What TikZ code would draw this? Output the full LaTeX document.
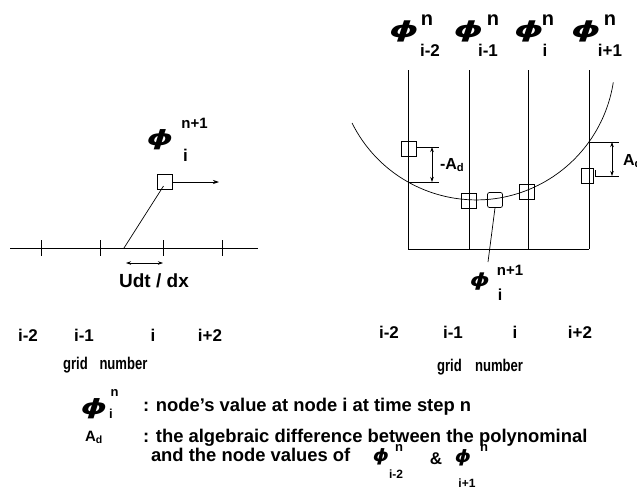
\documentclass[tikz,border=0pt]{standalone}
\usepackage{fontspec}
\setmainfont{Liberation Sans}
\newfontfamily\phifont{DejaVu Sans}[ItalicFont={DejaVu Sans Oblique},BoldFont={DejaVu Sans Bold},BoldItalicFont={DejaVu Sans Bold Oblique}]
\usepackage{graphicx}
\usetikzlibrary{arrows.meta,calc}
\newcommand{\fs}[1]{\fontsize{#1}{#1}\selectfont}
\newcommand{\Bphi}[2]{\scalebox{#2}[1]{\phifont\bfseries\itshape\fs{#1}ϕ}}
\newcommand{\cond}[1]{\scalebox{0.77}[1]{#1}}
\begin{document}
\begin{tikzpicture}[x=1pt,y=-1pt,line width=0.7pt,
  txt/.style={inner sep=0pt,outer sep=0pt,anchor=base},
  lab/.style={txt,font=\bfseries\fs{17}},
  supl/.style={txt,font=\bfseries\fs{15}},
  topsup/.style={txt,font=\bfseries\fs{20}},
  topsub/.style={txt,font=\bfseries\fs{17}},
  leg/.style={txt,font=\bfseries\fs{18.4},anchor=base west},
  legs/.style={txt,font=\bfseries\fs{13}},
  sq/.style={draw,minimum width=15pt,minimum height=15pt,inner sep=0pt},
  tip/.style={-{Stealth[length=6pt,width=4pt]}},
  dtip/.style={{Stealth[length=5pt,width=3.5pt]}-{Stealth[length=5pt,width=3.5pt]}}]
\useasboundingbox (0,0) rectangle (637,493);

% ---------- left diagram ----------
\coordinate (La) at (10,248);
\coordinate (Lb) at (258,248);
\draw (La) -- (Lb);
\foreach \x in {41,100,163,222} \draw (\x,240) -- (\x,256);
\node[sq] (Lsq) at (164.5,182) {};
\coordinate (Lfoot) at (124,248);
\draw ($(Lsq.center)+(-1,4)$) -- (Lfoot);
\coordinate (Larr) at (219,182);
\draw[tip] (Lsq.east) -- (Larr);
\coordinate (Lda) at (126,263);
\coordinate (Ldb) at (163,263);
\draw[dtip] (Lda) -- (Ldb);
\node[txt,font=\bfseries\fs{19}] (udt) at (154,287) {Udt / dx};
\node[txt] (Lphi) at (160,145) {\Bphi{21}{1.6}};
\node[supl] (Lsup) at (194.5,128) {n+1};
\node[txt,font=\bfseries\fs{17}] (Lsub) at (185.5,161) {i};

% ---------- right diagram ----------
\foreach \n/\x in {a/408,b/469,c/528,d/589}{
  \coordinate (T\n) at (\x,70);
  \coordinate (B\n) at (\x,249);
  \draw (T\n) -- (B\n);
}
\draw (Ba) -- (Bd);
\coordinate (C) at (476.2,61.2);
\draw ([shift={(206.45:138.7pt)}]C) arc[start angle=206.45,end angle=351.2,radius=138.7pt];

\node[sq] (s1) at (408.5,148.5) {};
\node[sq] (s2) at (468.5,200.5) {};
\node[sq,rounded corners=2pt] (s3) at (495,200) {};
\node[sq] (s4) at (526.5,191.5) {};
\node[sq,minimum width=12pt] (s5) at (587,175.5) {};

% -A_d dimension
\coordinate (m1s) at (416,147);
\coordinate (m1a) at (439,147);
\coordinate (m1b) at (408,182);
\coordinate (m1c) at (439,182);
\coordinate (m1u) at (432,147);
\coordinate (m1d) at (432,182);
\draw (m1s) -- (m1a);
\draw (m1b) -- (m1c);
\draw[dtip] (m1u) -- (m1d);
\node[txt,font=\bfseries\fs{16},anchor=base west] (mAd) at (440,169) {-A\textsubscript{d}};

% A_d dimension
\coordinate (m2a) at (589,142);
\coordinate (m2b) at (619,142);
\coordinate (m2t) at (595,170);
\coordinate (m2c) at (595,176);
\coordinate (m2d) at (619,176);
\coordinate (m2u) at (612,142);
\coordinate (m2l) at (612,176);
\draw (m2a) -- (m2b);
\draw (m2t) -- (m2c) -- (m2d);
\draw[dtip] (m2u) -- (m2l);
\node[txt,font=\bfseries\fs{16},anchor=base west] (pAd) at (623,165) {A\textsubscript{d}};

% phi^{n+1}_i below
\coordinate (pl) at (488,262);
\draw (s3.south) -- (pl);
\node[txt] (Rphi) at (480,286) {\Bphi{18}{1.4}};
\node[supl] (Rsup) at (510,275) {n+1};
\node[txt,font=\bfseries\fs{16}] (Rsub) at (500,300) {i};

% top phi labels
\node[txt] (P1) at (404,37) {\Bphi{22}{1.7}};
\node[topsup] (P1n) at (427,25) {n};
\node[topsub] (P1s) at (430,56) {i-2};
\node[txt] (P2) at (468.5,37) {\Bphi{22}{1.7}};
\node[topsup] (P2n) at (493,25) {n};
\node[topsub] (P2s) at (488,56) {i-1};
\node[txt] (P3) at (529,37) {\Bphi{22}{1.7}};
\node[topsup] (P3n) at (548,25) {n};
\node[topsub] (P3s) at (545,56) {i};
\node[txt] (P4) at (586,37) {\Bphi{22}{1.7}};
\node[topsup] (P4n) at (610,25) {n};
\node[topsub] (P4s) at (610,56) {i+1};

% ---------- grid numbers ----------
\node[lab] (l1) at (28,341) {i-2};
\node[lab] (l2) at (84,341) {i-1};
\node[lab] (l3) at (153,341) {i};
\node[lab] (l4) at (210,341) {i+2};
\node[lab] (lg) at (75.5,369) {\cond{grid}};
\node[lab] (ln) at (123.5,369) {\cond{number}};
\node[lab] (r1) at (389,338) {i-2};
\node[lab] (r2) at (453,338) {i-1};
\node[lab] (r3) at (515,338) {i};
\node[lab] (r4) at (580,338) {i+2};
\node[lab] (rg) at (449.5,371) {\cond{grid}};
\node[lab] (rn) at (499,371) {\cond{number}};

% ---------- legend ----------
\node[txt] (Gphi) at (94,414) {\Bphi{21}{1.6}};
\node[legs] (Gn) at (114.5,396) {n};
\node[legs] (Gi) at (111,418) {i};
\node[leg] (G1) at (143,411) {: node's value at node i at time step n};
\node[txt,font=\bfseries\fs{15}] (GA) at (94,441) {A\textsubscript{d}};
\node[leg] (G2) at (143,442) {: the algebraic difference between the polynominal};
\node[leg] (G3) at (151,461) {and the node values of};
\node[txt] (H1) at (381,461) {\Bphi{17}{1.2}};
\node[legs] (H1n) at (399,451) {n};
\node[txt,font=\bfseries\fs{12}] (H1s) at (396,478) {i-2};
\node[txt,font=\bfseries\fs{17}] (amp) at (436,464) {\&};
\node[txt] (H2) at (463,462) {\Bphi{17}{1.2}};
\node[legs] (H2n) at (484,451) {n};
\node[txt,font=\bfseries\fs{12}] (H2s) at (467,487) {i+1};
\end{tikzpicture}
\end{document}
